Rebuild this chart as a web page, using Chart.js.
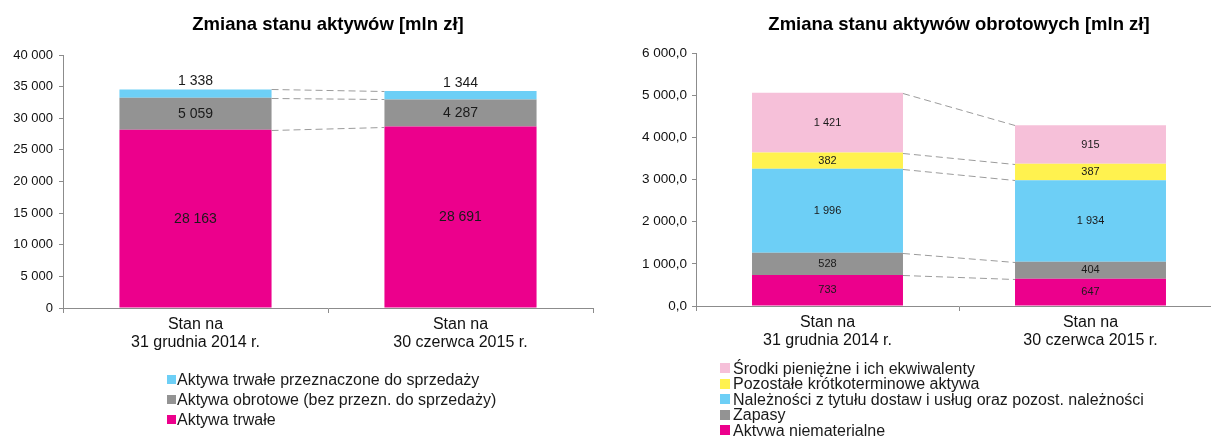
<!DOCTYPE html>
<html lang="pl">
<head>
<meta charset="utf-8">
<title>Zmiana stanu aktywów</title>
<script src="https://cdn.jsdelivr.net/npm/chart.js@4.4.1/dist/chart.umd.min.js"></script>
<style>
  html, body { margin: 0; padding: 0; background: #fff; }
  #page { position: relative; width: 1211px; height: 436px; overflow: hidden; font-family: "Liberation Sans", Arial, sans-serif; }
  #page canvas { position: absolute; top: 0; }
  .legend { position: absolute; font-size: 16px; color: #1a1a1a; }
  .legend .item { position: relative; white-space: nowrap; }
  .legend .box { position: absolute; left: 0; }
</style>
</head>
<body>
<div id="page">
  <canvas id="assetsChart" width="605" height="436" style="left:0"></canvas>
  <canvas id="currentChart" width="620" height="436" style="left:605px"></canvas>
  <div class="legend" id="assetsLegend"></div>
  <div class="legend" id="currentLegend"></div>
</div>
<script>
// --- data ---
const categories = [['Stan na', '31 grudnia 2014 r.'], ['Stan na', '30 czerwca 2015 r.']];

// left chart: total assets [mln zł], stacked bottom -> top
const assetsSeries = ['Aktywa trwałe', 'Aktywa obrotowe (bez przezn. do sprzedaży)', 'Aktywa trwałe przeznaczone do sprzedaży'];
const fixedAssets = [28163, 28691];
const currentAssetsExSale = [5059, 4287];
const assetsHeldForSale = [1338, 1344];
const assetsTicks = [0, 5000, 10000, 15000, 20000, 25000, 30000, 35000, 40000];

// right chart: current assets [mln zł], stacked bottom -> top
const currentSeries = ['Aktywa niematerialne', 'Zapasy', 'Należności z tytułu dostaw i usług oraz pozost. należności', 'Pozostałe krótkoterminowe aktywa', 'Środki pieniężne i ich ekwiwalenty'];
const intangibles = [733, 647];
const inventories = [528, 404];
const receivables = [1996, 1934];
const otherShortTerm = [382, 387];
const cash = [1421, 915];
const currentTicks = [0, 1000, 2000, 3000, 4000, 5000, 6000];

// --- style ---
const FONT = '"Liberation Sans", Arial, sans-serif';
const AXIS = '#8c8c8c';
const MAGENTA = '#EC008C';
const GREY = '#939393';
const CYAN = '#6DCFF6';
const YELLOW = '#FFF24F';
const ROSE = '#F6C0D9';

function spaced(n) {
    return String(n).replace(/\B(?=(\d{3})+(?!\d))/g, ' ');
}
function plDecimal(n) {
    const parts = Number(n).toFixed(1).split('.');
    return spaced(parts[0]) + ',' + parts[1];
}

// title centred over the plot area
const centredTitle = {
    id: 'centredTitle',
    afterDraw(chart, args, opts) {
        const ctx = chart.ctx, area = chart.chartArea;
        ctx.save();
        ctx.font = 'bold 18.5px ' + FONT;
        ctx.fillStyle = '#000';
        ctx.textAlign = 'center';
        ctx.textBaseline = 'middle';
        ctx.fillText(opts.text, (area.left + area.right) / 2, 25);
        ctx.restore();
    }
};

// dashed lines joining the top of each segment between the two bars
const stackLinks = {
    id: 'stackLinks',
    afterDatasetsDraw(chart) {
        const ctx = chart.ctx;
        ctx.save();
        ctx.strokeStyle = '#9b9b9b';
        ctx.lineWidth = 1;
        ctx.setLineDash([7, 4]);
        chart.data.datasets.forEach((ds, i) => {
            const bars = chart.getDatasetMeta(i).data;
            for (let j = 0; j + 1 < bars.length; j++) {
                const a = bars[j], b = bars[j + 1];
                ctx.beginPath();
                ctx.moveTo(a.x + a.width / 2, Math.round(a.y) + 0.5);
                ctx.lineTo(b.x - b.width / 2, Math.round(b.y) + 0.5);
                ctx.stroke();
            }
        });
        ctx.restore();
    }
};

// value labels in (or just above) each segment
const valueLabels = {
    id: 'valueLabels',
    afterDatasetsDraw(chart, args, opts) {
        const ctx = chart.ctx;
        ctx.save();
        ctx.font = opts.size + 'px ' + FONT;
        ctx.fillStyle = '#1a1a1a';
        ctx.textAlign = 'center';
        ctx.textBaseline = 'middle';
        chart.data.datasets.forEach((ds, i) => {
            chart.getDatasetMeta(i).data.forEach((bar, j) => {
                const y = ds.labelAbove ? bar.y - 8 : (bar.y + bar.base) / 2;
                ctx.fillText(spaced(ds.data[j]), bar.x, y);
            });
        });
        ctx.restore();
    }
};

function stackedOptions(o) {
    return {
        responsive: false,
        animation: false,
        events: [],
        layout: { padding: { top: o.top, right: o.right, bottom: o.bottom, left: 0 } },
        datasets: { bar: { barPercentage: 0.574, categoryPercentage: 1 } },
        plugins: {
            legend: { display: false },
            tooltip: { enabled: false },
            centredTitle: { text: o.title },
            valueLabels: { size: o.labelSize }
        },
        scales: {
            x: {
                stacked: true,
                grid: { drawOnChartArea: false, offset: true, tickLength: 5, color: AXIS },
                border: { color: AXIS },
                ticks: { color: '#111', font: { family: FONT, size: 16, lineHeight: 1.125 }, padding: 3, maxRotation: 0, autoSkip: false },
                afterFit(scale) { scale.height = 60; }
            },
            y: {
                stacked: true,
                min: o.ticks[0],
                max: o.ticks[o.ticks.length - 1],
                grid: { drawOnChartArea: false, tickLength: 4, color: AXIS },
                border: { color: AXIS },
                ticks: { color: '#111', font: { family: FONT, size: o.tickSize }, padding: o.tickPad, callback: o.fmt },
                afterBuildTicks(scale) { scale.ticks = o.ticks.map(v => ({ value: v })); },
                afterFit(scale) { scale.width = o.axisX; }
            }
        }
    };
}

function buildLegend(id, names, colors, pos) {
    const el = document.getElementById(id);
    el.style.left = pos.left + 'px';
    el.style.top = pos.top + 'px';
    // legend lists the top segment first
    for (let i = names.length - 1; i >= 0; i--) {
        const item = document.createElement('div');
        item.className = 'item';
        item.style.height = pos.row + 'px';
        item.style.lineHeight = pos.row + 'px';
        item.style.paddingLeft = pos.textX + 'px';
        const box = document.createElement('span');
        box.className = 'box';
        box.style.width = pos.box[0] + 'px';
        box.style.height = pos.box[1] + 'px';
        box.style.top = ((pos.row - pos.box[1]) / 2 + pos.boxShift) + 'px';
        box.style.background = colors[i];
        item.appendChild(box);
        item.appendChild(document.createTextNode(names[i]));
        el.appendChild(item);
    }
}

// Left chart
new Chart(document.getElementById('assetsChart'), {
    type: 'bar',
    data: {
        labels: categories,
        datasets: [
            { label: assetsSeries[0], data: fixedAssets, backgroundColor: MAGENTA },
            { label: assetsSeries[1], data: currentAssetsExSale, backgroundColor: GREY },
            { label: assetsSeries[2], data: assetsHeldForSale, backgroundColor: CYAN, labelAbove: true }
        ]
    },
    options: stackedOptions({
        title: 'Zmiana stanu aktywów [mln zł]',
        ticks: assetsTicks, fmt: v => spaced(v),
        top: 55, bottom: 68, right: 12, axisX: 63,
        tickSize: 13, tickPad: 6, labelSize: 14
    }),
    plugins: [centredTitle, stackLinks, valueLabels]
});

// Right chart
new Chart(document.getElementById('currentChart'), {
    type: 'bar',
    data: {
        labels: categories,
        datasets: [
            { label: currentSeries[0], data: intangibles, backgroundColor: MAGENTA },
            { label: currentSeries[1], data: inventories, backgroundColor: GREY },
            { label: currentSeries[2], data: receivables, backgroundColor: CYAN },
            { label: currentSeries[3], data: otherShortTerm, backgroundColor: YELLOW },
            { label: currentSeries[4], data: cash, backgroundColor: ROSE }
        ]
    },
    options: stackedOptions({
        title: 'Zmiana stanu aktywów obrotowych [mln zł]',
        ticks: currentTicks, fmt: v => plDecimal(v),
        top: 53, bottom: 70, right: 3, axisX: 91,
        tickSize: 13.5, tickPad: 5, labelSize: 11
    }),
    plugins: [centredTitle, stackLinks, valueLabels]
});

buildLegend('assetsLegend', assetsSeries, [MAGENTA, GREY, CYAN],
    { left: 167, top: 370, row: 20, textX: 10, box: [9, 9], boxShift: -1 });
buildLegend('currentLegend', currentSeries, [MAGENTA, GREY, CYAN, YELLOW, ROSE],
    { left: 720, top: 360.5, row: 15.5, textX: 13, box: [10, 10], boxShift: 0 });
</script>
</body>
</html>
